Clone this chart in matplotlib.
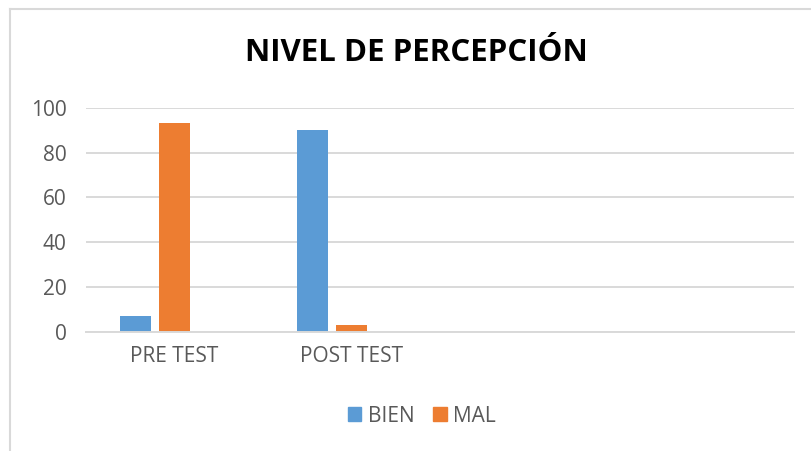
import matplotlib

matplotlib.use("Agg")

import matplotlib.pyplot as plt
import numpy as np
from matplotlib.lines import Line2D
from matplotlib.patches import Patch

categories = ["PRE TEST", "POST TEST", "", ""]
bien = [7, 90]
mal = [93, 3]
yticks = [0, 20, 40, 60, 80, 100]

BLUE = "#5b9bd5"
ORANGE = "#ed7d31"
GRID = "#d9d9d9"
TEXT = "#595959"

plt.rcParams["font.family"] = ["Open Sans", "DejaVu Sans"]

fig = plt.figure(figsize=(8.11, 4.51), dpi=100)
ax = fig.add_axes([0.106, 0.264, 0.873, 0.497])

x = np.arange(len(categories))
w = 0.175
step = 0.22
ax.bar(x[: len(bien)] - step, bien, width=w, color=BLUE, label="BIEN")
ax.bar(x[: len(mal)], mal, width=w, color=ORANGE, label="MAL")

ax.set_xlim(-0.5, len(categories) - 0.5)
ax.set_ylim(0, 100)
ax.set_yticks(yticks)
ax.set_xticks(x)
ax.set_xticklabels(categories)
ax.tick_params(axis="both", length=0, labelsize=15, colors=TEXT, pad=14)
ax.tick_params(axis="x", pad=10)
ax.grid(axis="y", color=GRID, linewidth=1.4)
ax.set_axisbelow(True)
for s in ["top", "right", "left"]:
    ax.spines[s].set_visible(False)
ax.spines["bottom"].set_color(GRID)
ax.spines["bottom"].set_linewidth(1.4)

fig.text(0.513, 1 - 53 / 451, "NIVEL DE PERCEPCIÓN", ha="center", va="center",
         fontsize=22.5, fontweight="bold", color="black")

handles = [Patch(color=BLUE, label="BIEN"), Patch(color=ORANGE, label="MAL")]
fig.legend(handles=handles, loc="center", bbox_to_anchor=(0.52, 1 - 416 / 451),
           ncol=2, frameon=False, fontsize=15, handlelength=0.65, handleheight=0.65,
           handletextpad=0.3, columnspacing=0.9, labelcolor=TEXT)

# chart border (only left and top edges visible)
fig.add_artist(Line2D([10 / 811, 10 / 811], [0, 1 - 9 / 451], color=GRID, linewidth=1.5))
fig.add_artist(Line2D([10 / 811, 1], [1 - 9 / 451, 1 - 9 / 451], color=GRID, linewidth=1.5))

fig.savefig("out.png", dpi=100)
plt.close(fig)
